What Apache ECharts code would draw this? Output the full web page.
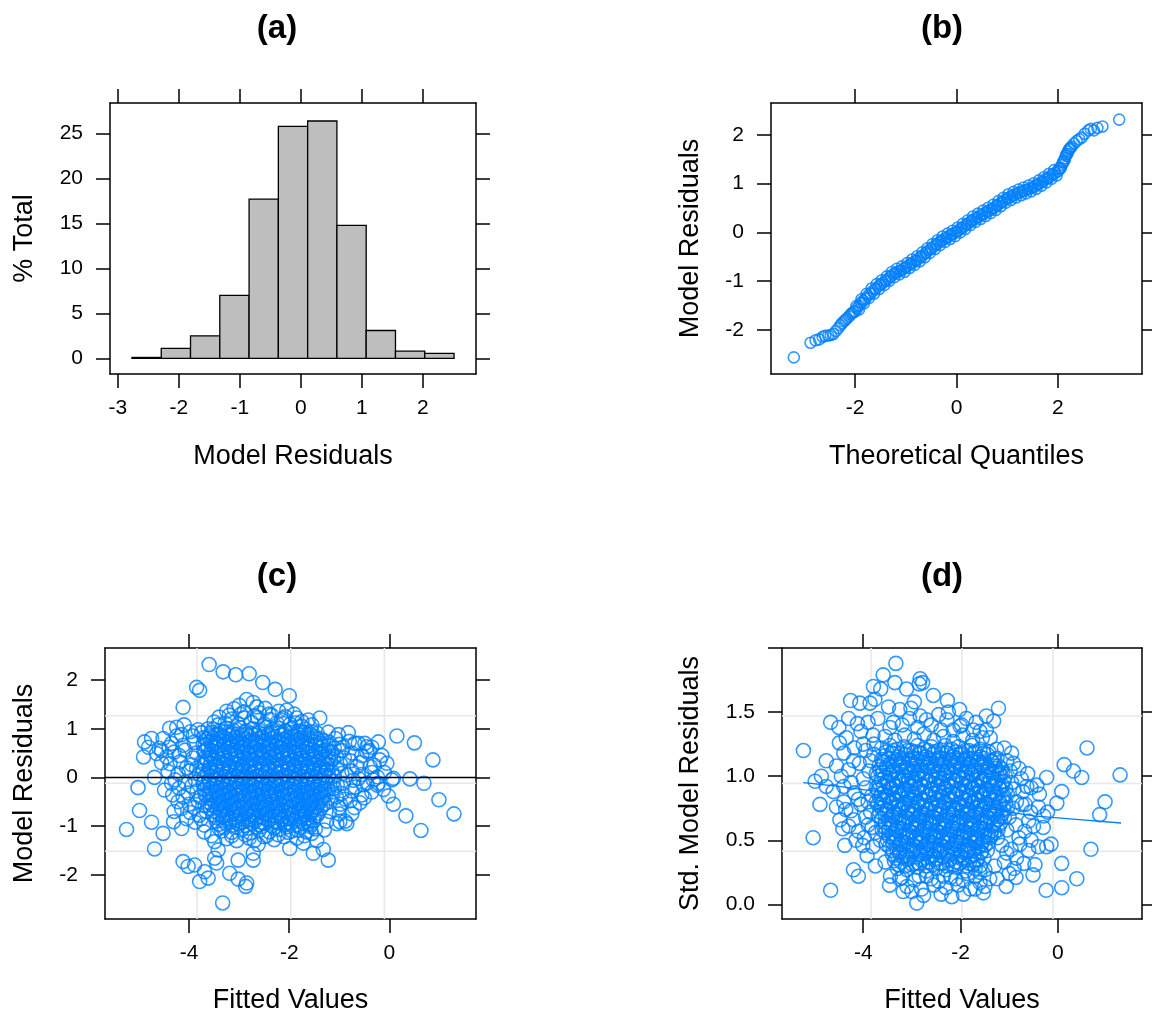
<!DOCTYPE html>
<html>
<head>
<meta charset="utf-8">
<script src="https://cdn.jsdelivr.net/npm/echarts/dist/echarts.min.js"></script>
<style>
  html, body { margin: 0; padding: 0; background: #fff; }
  #chart { width: 1152px; height: 1016px; }
</style>
</head>
<body>
<div id="chart"></div>
<script>
// ---- (a) histogram of residuals ----
const histEdges = [-2.77, -2.29, -1.81, -1.33, -0.85, -0.37, 0.11, 0.59, 1.07, 1.55, 2.03, 2.51]
const histPercent = [0.1, 1.1, 2.5, 7.0, 17.7, 25.8, 26.4, 14.8, 3.1, 0.8, 0.55]

// ---- (b) normal QQ plot: [theoretical quantile, residual] ----
const qqPoints = [
  [-3.21,-2.56],[-2.88,-2.26],[-2.78,-2.21],[-2.71,-2.19],[-2.64,-2.14],[-2.59,-2.12],[-2.53,-2.11],[-2.48,-2.10],
  [-2.43,-2.08],[-2.38,-2.02],[-2.33,-1.96],[-2.29,-1.90],[-2.26,-1.86],[-2.22,-1.82],[-2.19,-1.79],[-2.16,-1.76],
  [-2.12,-1.72],[-2.09,-1.68],[-2.06,-1.65],[-2.03,-1.63],[-2.00,-1.62],[-1.96,-1.55],[-1.92,-1.50],[-1.88,-1.44],
  [-1.84,-1.40],[-1.80,-1.36],[-1.75,-1.30],[-1.70,-1.25],[-1.65,-1.20],[-1.60,-1.16],[-1.55,-1.11],[-1.50,-1.07],
  [-1.45,-1.03],[-1.40,-0.99],[-1.35,-0.95],[-1.30,-0.90],[-1.25,-0.86],[-1.20,-0.83],[-1.15,-0.80],[-1.10,-0.78],
  [-1.05,-0.75],[-1.00,-0.72],[-0.95,-0.68],[-0.90,-0.64],[-0.85,-0.61],[-0.80,-0.58],[-0.75,-0.54],[-0.70,-0.50],
  [-0.65,-0.46],[-0.60,-0.42],[-0.55,-0.37],[-0.50,-0.33],[-0.45,-0.29],[-0.40,-0.25],[-0.35,-0.21],[-0.30,-0.17],
  [-0.25,-0.14],[-0.20,-0.11],[-0.15,-0.08],[-0.10,-0.05],[-0.05,-0.02],[0.00,0.01],[0.05,0.05],[0.10,0.09],
  [0.15,0.12],[0.20,0.16],[0.25,0.20],[0.30,0.24],[0.35,0.27],[0.40,0.30],[0.45,0.33],[0.50,0.36],
  [0.55,0.39],[0.60,0.42],[0.65,0.45],[0.70,0.48],[0.75,0.51],[0.80,0.55],[0.85,0.59],[0.90,0.62],
  [0.95,0.66],[1.00,0.70],[1.05,0.72],[1.10,0.75],[1.15,0.77],[1.20,0.80],[1.25,0.82],[1.30,0.84],
  [1.35,0.86],[1.40,0.88],[1.45,0.90],[1.50,0.92],[1.55,0.95],[1.60,0.98],[1.65,1.01],[1.70,1.04],
  [1.75,1.08],[1.80,1.11],[1.85,1.15],[1.90,1.19],[1.95,1.22],[2.00,1.25],[2.04,1.31],[2.08,1.38],
  [2.11,1.45],[2.14,1.52],[2.17,1.60],[2.20,1.66],[2.24,1.72],[2.27,1.76],[2.32,1.82],[2.37,1.87],
  [2.42,1.91],[2.47,1.94],[2.53,2.02],[2.60,2.09],[2.65,2.12],[2.71,2.09],[2.78,2.14],[2.88,2.17],[3.21,2.31]
]
// the upper and lower edges of the band, read between those points
const qqBand = [
  [-1.975,-1.51],[-1.925,-1.58],[-1.875,-1.37],[-1.825,-1.45],[-1.775,-1.26],[-1.725,-1.34],[-1.675,-1.15],[-1.625,-1.25],
  [-1.575,-1.06],[-1.525,-1.16],[-1.475,-0.98],[-1.425,-1.08],[-1.375,-0.90],[-1.325,-0.99],[-1.275,-0.81],[-1.225,-0.915],
  [-1.175,-0.745],[-1.125,-0.86],[-1.075,-0.695],[-1.025,-0.805],[-0.975,-0.63],[-0.925,-0.73],[-0.875,-0.555],[-0.825,-0.665],
  [-0.775,-0.49],[-0.725,-0.59],[-0.675,-0.41],[-0.625,-0.51],[-0.575,-0.325],[-0.525,-0.42],[-0.475,-0.24],[-0.425,-0.34],
  [-0.375,-0.16],[-0.325,-0.26],[-0.275,-0.085],[-0.225,-0.195],[-0.175,-0.025],[-0.125,-0.135],[-0.075,0.035],[-0.025,-0.075],
  [0.025,0.10],[0.075,0.00],[0.125,0.175],[0.175,0.07],[0.225,0.25],[0.275,0.15],[0.325,0.325],[0.375,0.215],
  [0.425,0.385],[0.475,0.275],[0.525,0.445],[0.575,0.335],[0.625,0.505],[0.675,0.395],[0.725,0.565],[0.775,0.46],
  [0.825,0.64],[0.875,0.535],[0.925,0.71],[0.975,0.61],[1.025,0.78],[1.075,0.665],[1.125,0.83],[1.175,0.715],
  [1.225,0.88],[1.275,0.76],[1.325,0.92],[1.375,0.80],[1.425,0.96],[1.475,0.84],[1.525,1.005],[1.575,0.895],
  [1.625,1.065],[1.675,0.955],[1.725,1.13],[1.775,1.025],[1.825,1.20],[1.875,1.10],[1.925,1.275],[1.975,1.165],
  [2.02,1.30],[2.06,1.32],[2.10,1.43],[2.13,1.47],[2.16,1.57],[2.19,1.61],[2.22,1.70],[2.25,1.73]
]

// ---- (c) residuals vs fitted: [fitted, residual] ----
const residOuter = [
  [-3.60,2.32],[-3.32,2.17],[-3.07,2.11],[-2.80,2.13],[-2.53,1.95],[-2.28,1.81],[-2.00,1.68],
  [-3.85,1.85],[-3.79,1.79],[-4.12,1.44],[-2.85,1.60],[-2.72,1.54],[-1.39,1.22],[-1.85,1.22],[-1.62,1.18],[-3.40,1.24],
  [0.15,0.85],[0.50,0.71],[0.87,0.36],[-0.22,0.73],[-0.19,0.36],[-0.05,0.29],[0.41,-0.03],[0.69,-0.12],[0.99,-0.46],
  [1.29,-0.75],[0.33,-0.79],[0.63,-1.09],[0.08,-0.02],[-0.02,-0.38],[0.08,-0.55],[-0.22,-0.12],[-0.45,-0.12],[-0.59,-0.52],
  [-5.25,-1.07],[-5.02,-0.21],[-4.99,-0.68],[-4.75,-0.92],[-4.52,-1.15],[-4.69,-1.47],[-4.69,0.00],[-4.91,0.42],
  [-4.89,0.73],[-4.75,0.80],[-4.52,0.80],[-4.39,1.01],[-4.25,1.03],[-4.31,-0.91],[-4.15,-1.05],[-4.65,0.49],
  [-4.45,0.42],[-4.49,-0.26],[-4.33,-0.36],[-4.15,-0.64],[-4.10,1.08],[-3.97,0.94],[-4.81,0.62],[-4.60,0.60],
  [-4.12,-1.73],[-4.02,-1.83],[-3.89,-1.80],[-3.79,-2.14],[-3.62,-2.07],[-3.69,-1.94],[-3.33,-2.58],[-3.19,-1.97],
  [-3.02,-2.09],[-2.85,-2.17],[-2.87,-2.24],[-3.02,-1.70],[-2.72,-1.70],[-2.72,-1.56],[-2.45,-1.20],[-1.99,-1.46],
  [-1.72,-1.35],[-1.52,-1.56],[-1.22,-1.70],[-1.32,-1.48],[-3.49,-1.32],[-3.42,-1.49],[-3.45,-1.76],[-3.49,-1.66],
  [-3.25,1.36],[-3.10,1.41],[-2.97,1.30],[-2.60,1.33],[-2.48,1.42],[-2.35,1.28],[-2.21,1.36],[-2.08,1.25],
  [-1.90,1.30],[-2.65,1.45],[-3.00,1.48],
  [-0.35,0.62],[-0.15,0.45],[-0.30,0.25],[-0.10,0.10],[0.05,-0.05],[-0.12,-0.25],[-0.35,-0.30],[-0.50,-0.42],
  [-0.75,-0.75],[-0.85,-0.95],[-0.24,0.01],[-0.24,-0.16],[-0.45,0.53],[-0.49,0.70],[-0.69,0.70],[-0.99,-0.91]
]
const residMid = [
  [-4.15,0.88],[-3.92,0.85],[-3.75,0.92],[-4.35,0.70],[-4.12,0.66],[-3.90,0.72],[-3.72,0.68],
  [-4.55,0.55],[-4.30,0.52],[-4.08,0.56],[-3.86,0.50],[-3.68,0.55],[-4.38,0.28],[-4.18,0.32],[-3.95,0.26],[-3.75,0.31],
  [-4.42,0.12],[-4.22,0.08],[-4.00,0.13],[-3.80,0.07],[-4.28,-0.05],[-4.08,-0.10],[-3.88,-0.04],[-3.72,-0.12],
  [-4.20,-0.22],[-4.02,-0.32],[-3.84,-0.28],[-3.68,-0.35],[-4.22,-0.50],[-4.00,-0.55],[-3.82,-0.48],[-3.68,-0.58],
  [-3.98,-0.72],[-3.80,-0.78],[-3.66,-0.70],[-3.88,-0.92],[-3.70,-0.98],[-3.70,-1.12],[-3.55,-1.20],
  [-1.22,0.93],[-1.02,0.88],[-1.20,0.72],[-1.00,0.68],[-0.80,0.74],[-0.62,0.70],[-0.45,0.63],
  [-1.15,0.52],[-0.95,0.55],[-0.75,0.50],[-0.55,0.45],[-0.40,0.55],[-1.18,0.32],[-0.98,0.28],[-0.78,0.34],[-0.58,0.30],[-0.38,0.22],
  [-1.15,0.12],[-0.95,0.08],[-0.75,0.13],[-0.55,0.06],[-0.35,0.10],[-1.12,-0.08],[-0.92,-0.12],[-0.72,-0.06],[-0.52,-0.15],[-0.32,-0.05],
  [-1.15,-0.30],[-0.95,-0.33],[-0.75,-0.28],[-0.55,-0.36],[-1.18,-0.50],[-0.98,-0.55],[-0.78,-0.48],[-0.70,-0.62],
  [-1.20,-0.70],[-1.00,-0.75],[-0.88,-0.90],[-1.25,-0.90],[-1.05,-0.95],[-1.30,-1.08],
  [-3.50,1.14],[-3.28,1.12],[-3.15,1.20],[-3.02,1.10],[-2.90,1.22],[-2.76,1.14],[-2.63,1.23],[-2.50,1.10],
  [-2.38,1.19],[-2.25,1.12],[-2.12,1.21],[-1.98,1.09],[-1.75,1.05],
  [-3.35,-1.10],[-3.15,-1.13],[-2.95,-1.08],[-2.78,-1.14],[-2.60,-1.09],[-2.40,-1.12],[-2.20,-1.07],[-2.02,-1.13],
  [-1.84,-1.08],[-1.66,-1.12],[-1.48,-1.06],[-3.25,-1.26],[-3.05,-1.30],[-2.80,-1.25],[-2.62,-1.38],[-2.30,-1.28],
  [-2.10,-1.22],[-1.85,-1.25],[-1.45,-1.30],
  [-1.10,0.60],[-1.06,0.44],[-1.12,0.38],[-1.05,0.20],[-1.10,0.02],[-1.04,-0.16],[-1.10,-0.22],[-1.06,-0.40],
  [-4.40,0.62],[-4.20,0.45],[-4.05,0.20],[-3.92,0.40],[-4.25,0.85],[-3.82,0.98],[-3.95,-0.18],[-4.12,-0.40],
  [-3.90,-0.62],[-4.05,-0.85],[-3.78,-0.40],[-3.85,0.18],[-4.30,-0.70],[-3.76,-0.85],[-3.62,1.00],[-3.70,0.82],
  [-4.55,0.30],[-4.35,-0.12],
  [-0.90,0.40],[-0.85,0.05],[-0.68,-0.20],[-0.88,-0.45],[-1.08,0.80],[-0.92,0.62],[-0.65,0.22],[-1.00,-0.62],
  [-0.62,-0.02],[-0.82,0.92],
  [-3.20,1.28],[-2.90,1.35],[-2.40,1.30],[-2.05,1.38],[-1.75,1.15],[-1.55,1.08],[-3.42,1.08],[-2.70,1.26],
  [-2.15,1.18],[-1.88,1.12],
  [-3.15,-1.20],[-2.88,-1.18],[-2.50,-1.22],[-2.22,-1.18],[-1.95,-1.10],[-1.70,-1.20],[-3.40,-1.05],[-1.55,-1.15],
  [-2.70,-1.30],[-1.62,-0.95]
]
const residCore = [
  [-3.52,0.99],[-3.38,0.96],[-3.26,1.01],[-3.12,0.97],[-2.99,1.02],[-2.86,0.96],[-2.73,1.00],[-2.60,0.97],[-2.47,1.03],
  [-2.34,0.98],[-2.21,1.01],[-2.08,0.96],[-1.95,1.00],[-1.82,0.95],[-1.68,0.99],[-1.55,0.94],
  [-3.60,0.85],[-3.46,0.88],[-3.33,0.84],[-3.20,0.87],[-3.07,0.83],[-2.94,0.88],[-2.81,0.85],[-2.68,0.87],[-2.55,0.83],
  [-2.42,0.88],[-2.29,0.84],[-2.16,0.87],[-2.03,0.83],[-1.90,0.86],[-1.77,0.82],[-1.64,0.87],[-1.51,0.84],[-1.38,0.80],
  [-3.58,0.74],[-3.45,0.71],[-3.31,0.75],[-3.19,0.72],[-3.05,0.74],[-2.93,0.70],[-2.79,0.75],[-2.67,0.72],[-2.53,0.74],
  [-2.41,0.70],[-2.27,0.73],[-2.15,0.71],[-2.01,0.75],[-1.89,0.72],[-1.75,0.74],[-1.63,0.70],[-1.49,0.73],[-1.37,0.69],
  [-3.62,0.60],[-3.49,0.62],[-3.35,0.58],[-3.23,0.61],[-3.10,0.57],[-2.96,0.62],[-2.84,0.59],[-2.70,0.61],[-2.58,0.57],
  [-2.44,0.62],[-2.32,0.58],[-2.18,0.61],[-2.06,0.57],[-1.92,0.62],[-1.80,0.59],[-1.66,0.61],[-1.54,0.57],[-1.40,0.60],[-1.30,0.56],
  [-3.60,0.47],[-3.46,0.49],[-3.34,0.45],[-3.20,0.48],[-3.08,0.44],[-2.94,0.49],[-2.82,0.46],[-2.68,0.48],[-2.56,0.44],
  [-2.42,0.49],[-2.30,0.45],[-2.16,0.48],[-2.04,0.44],[-1.90,0.49],[-1.78,0.46],[-1.64,0.48],[-1.52,0.44],[-1.38,0.47],[-1.28,0.43],
  [-3.63,0.34],[-3.50,0.36],[-3.36,0.32],[-3.24,0.35],[-3.10,0.31],[-2.98,0.36],[-2.84,0.33],[-2.72,0.35],[-2.58,0.31],
  [-2.46,0.36],[-2.32,0.32],[-2.20,0.35],[-2.06,0.31],[-1.94,0.36],[-1.80,0.33],[-1.68,0.35],[-1.54,0.31],[-1.42,0.34],[-1.30,0.30],
  [-3.60,0.21],[-3.47,0.23],[-3.33,0.19],[-3.21,0.22],[-3.07,0.18],[-2.95,0.23],[-2.81,0.20],[-2.69,0.22],[-2.55,0.18],
  [-2.43,0.23],[-2.29,0.19],[-2.17,0.22],[-2.03,0.18],[-1.91,0.23],[-1.77,0.20],[-1.65,0.22],[-1.51,0.18],[-1.39,0.21],[-1.27,0.17],
  [-3.64,0.08],[-3.51,0.10],[-3.37,0.06],[-3.25,0.09],[-3.11,0.05],[-2.99,0.10],[-2.85,0.07],[-2.73,0.09],[-2.59,0.05],
  [-2.47,0.10],[-2.33,0.06],[-2.21,0.09],[-2.07,0.05],[-1.95,0.10],[-1.81,0.07],[-1.69,0.09],[-1.55,0.05],[-1.43,0.08],[-1.30,0.04],
  [-3.61,-0.05],[-3.48,-0.03],[-3.34,-0.07],[-3.22,-0.04],[-3.08,-0.08],[-2.96,-0.03],[-2.82,-0.06],[-2.70,-0.04],[-2.56,-0.08],
  [-2.44,-0.03],[-2.30,-0.07],[-2.18,-0.04],[-2.04,-0.08],[-1.92,-0.03],[-1.78,-0.06],[-1.66,-0.04],[-1.52,-0.08],[-1.40,-0.05],[-1.28,-0.09],
  [-3.64,-0.18],[-3.51,-0.16],[-3.37,-0.20],[-3.25,-0.17],[-3.11,-0.21],[-2.99,-0.16],[-2.85,-0.19],[-2.73,-0.17],[-2.59,-0.21],
  [-2.47,-0.16],[-2.33,-0.20],[-2.21,-0.17],[-2.07,-0.21],[-1.95,-0.16],[-1.81,-0.19],[-1.69,-0.17],[-1.55,-0.21],[-1.43,-0.18],[-1.30,-0.22],
  [-3.60,-0.31],[-3.47,-0.29],[-3.33,-0.33],[-3.21,-0.30],[-3.07,-0.34],[-2.95,-0.29],[-2.81,-0.32],[-2.69,-0.30],[-2.55,-0.34],
  [-2.43,-0.29],[-2.29,-0.33],[-2.17,-0.30],[-2.03,-0.34],[-1.91,-0.29],[-1.77,-0.32],[-1.65,-0.30],[-1.51,-0.34],[-1.39,-0.31],[-1.27,-0.35],
  [-3.57,-0.44],[-3.44,-0.42],[-3.30,-0.46],[-3.18,-0.43],[-3.04,-0.47],[-2.92,-0.42],[-2.78,-0.45],[-2.66,-0.43],[-2.52,-0.47],
  [-2.40,-0.42],[-2.26,-0.46],[-2.14,-0.43],[-2.00,-0.47],[-1.88,-0.42],[-1.74,-0.45],[-1.62,-0.43],[-1.48,-0.47],[-1.36,-0.44],
  [-3.54,-0.57],[-3.41,-0.55],[-3.27,-0.59],[-3.15,-0.56],[-3.01,-0.60],[-2.89,-0.55],[-2.75,-0.58],[-2.63,-0.56],[-2.49,-0.60],
  [-2.37,-0.55],[-2.23,-0.59],[-2.11,-0.56],[-1.97,-0.60],[-1.85,-0.55],[-1.71,-0.58],[-1.59,-0.56],[-1.45,-0.60],[-1.33,-0.57],
  [-3.50,-0.70],[-3.37,-0.68],[-3.23,-0.72],[-3.11,-0.69],[-2.97,-0.73],[-2.85,-0.68],[-2.71,-0.71],[-2.59,-0.69],[-2.45,-0.73],
  [-2.33,-0.68],[-2.19,-0.72],[-2.07,-0.69],[-1.93,-0.73],[-1.81,-0.68],[-1.67,-0.71],[-1.55,-0.69],[-1.42,-0.73],
  [-3.45,-0.83],[-3.32,-0.81],[-3.18,-0.85],[-3.06,-0.82],[-2.92,-0.86],[-2.80,-0.81],[-2.66,-0.84],[-2.54,-0.82],[-2.40,-0.86],
  [-2.28,-0.81],[-2.14,-0.85],[-2.02,-0.82],[-1.88,-0.86],[-1.76,-0.81],[-1.62,-0.84],[-1.50,-0.82],
  [-3.40,-0.96],[-3.27,-0.94],[-3.13,-0.98],[-3.01,-0.95],[-2.87,-0.99],[-2.75,-0.94],[-2.61,-0.97],[-2.49,-0.95],[-2.35,-0.99],
  [-2.23,-0.94],[-2.09,-0.98],[-1.97,-0.95],[-1.83,-0.99],[-1.71,-0.94],[-1.58,-0.97]
]
// second pass over the solid part of (c), between the rows above
const residCoreB = [
  [-3.55,0.92],[-3.41,0.90],[-3.29,0.93],[-3.15,0.91],[-3.03,0.89],[-2.88,0.93],[-2.76,0.90],[-2.61,0.92],[-2.50,0.89],
  [-2.36,0.93],[-2.22,0.91],[-2.11,0.89],[-1.96,0.92],[-1.84,0.90],[-1.70,0.93],[-1.58,0.89],[-1.44,0.91],
  [-3.66,0.79],[-3.52,0.81],[-3.40,0.78],[-3.26,0.80],[-3.13,0.77],[-3.00,0.81],[-2.87,0.79],[-2.74,0.77],[-2.61,0.80],
  [-2.48,0.78],[-2.35,0.81],[-2.22,0.77],[-2.09,0.79],[-1.96,0.81],[-1.83,0.78],[-1.70,0.80],[-1.57,0.77],[-1.44,0.79],[-1.31,0.76],
  [-3.68,0.66],[-3.55,0.68],[-3.42,0.65],[-3.29,0.67],[-3.16,0.64],[-3.03,0.68],[-2.90,0.66],[-2.77,0.64],[-2.64,0.67],
  [-2.51,0.65],[-2.38,0.68],[-2.25,0.64],[-2.12,0.66],[-1.99,0.68],[-1.86,0.65],[-1.73,0.67],[-1.60,0.64],[-1.47,0.66],[-1.34,0.63],[-1.22,0.66],
  [-3.70,0.53],[-3.56,0.55],[-3.43,0.52],[-3.30,0.54],[-3.17,0.51],[-3.04,0.55],[-2.91,0.53],[-2.78,0.51],[-2.65,0.54],
  [-2.52,0.52],[-2.39,0.55],[-2.26,0.51],[-2.13,0.53],[-2.00,0.55],[-1.87,0.52],[-1.74,0.54],[-1.61,0.51],[-1.48,0.53],[-1.35,0.50],[-1.22,0.53],
  [-3.68,0.40],[-3.55,0.42],[-3.42,0.39],[-3.29,0.41],[-3.16,0.38],[-3.03,0.42],[-2.90,0.40],[-2.77,0.38],[-2.64,0.41],
  [-2.51,0.39],[-2.38,0.42],[-2.25,0.38],[-2.12,0.40],[-1.99,0.42],[-1.86,0.39],[-1.73,0.41],[-1.60,0.38],[-1.47,0.40],[-1.34,0.37],[-1.21,0.40],
  [-3.70,0.27],[-3.57,0.29],[-3.44,0.26],[-3.31,0.28],[-3.18,0.25],[-3.05,0.29],[-2.92,0.27],[-2.79,0.25],[-2.66,0.28],
  [-2.53,0.26],[-2.40,0.29],[-2.27,0.25],[-2.14,0.27],[-2.01,0.29],[-1.88,0.26],[-1.75,0.28],[-1.62,0.25],[-1.49,0.27],[-1.36,0.24],[-1.23,0.27],
  [-3.72,0.14],[-3.58,0.16],[-3.45,0.13],[-3.32,0.15],[-3.19,0.12],[-3.06,0.16],[-2.93,0.14],[-2.80,0.12],[-2.67,0.15],
  [-2.54,0.13],[-2.41,0.16],[-2.28,0.12],[-2.15,0.14],[-2.02,0.16],[-1.89,0.13],[-1.76,0.15],[-1.63,0.12],[-1.50,0.14],[-1.37,0.11],[-1.24,0.14],
  [-3.70,0.01],[-3.56,0.03],[-3.43,0.00],[-3.30,0.02],[-3.17,-0.01],[-3.04,0.03],[-2.91,0.01],[-2.78,-0.01],[-2.65,0.02],
  [-2.52,0.00],[-2.39,0.03],[-2.26,-0.01],[-2.13,0.01],[-2.00,0.03],[-1.87,0.00],[-1.74,0.02],[-1.61,-0.01],[-1.48,0.01],[-1.35,-0.02],[-1.22,0.01],
  [-3.71,-0.12],[-3.58,-0.10],[-3.45,-0.13],[-3.32,-0.11],[-3.19,-0.14],[-3.06,-0.10],[-2.93,-0.12],[-2.80,-0.14],[-2.67,-0.11],
  [-2.54,-0.13],[-2.41,-0.10],[-2.28,-0.14],[-2.15,-0.12],[-2.02,-0.10],[-1.89,-0.13],[-1.76,-0.11],[-1.63,-0.14],[-1.50,-0.12],[-1.37,-0.15],[-1.24,-0.12],
  [-3.70,-0.25],[-3.57,-0.23],[-3.44,-0.26],[-3.31,-0.24],[-3.18,-0.27],[-3.05,-0.23],[-2.92,-0.25],[-2.79,-0.27],[-2.66,-0.24],
  [-2.53,-0.26],[-2.40,-0.23],[-2.27,-0.27],[-2.14,-0.25],[-2.01,-0.23],[-1.88,-0.26],[-1.75,-0.24],[-1.62,-0.27],[-1.49,-0.25],[-1.36,-0.28],[-1.23,-0.25],
  [-3.66,-0.38],[-3.53,-0.36],[-3.40,-0.39],[-3.27,-0.37],[-3.14,-0.40],[-3.01,-0.36],[-2.88,-0.38],[-2.75,-0.40],[-2.62,-0.37],
  [-2.49,-0.39],[-2.36,-0.36],[-2.23,-0.40],[-2.10,-0.38],[-1.97,-0.36],[-1.84,-0.39],[-1.71,-0.37],[-1.58,-0.40],[-1.45,-0.38],[-1.32,-0.41],
  [-3.62,-0.51],[-3.49,-0.49],[-3.36,-0.52],[-3.23,-0.50],[-3.10,-0.53],[-2.97,-0.49],[-2.84,-0.51],[-2.71,-0.53],[-2.58,-0.50],
  [-2.45,-0.52],[-2.32,-0.49],[-2.19,-0.53],[-2.06,-0.51],[-1.93,-0.49],[-1.80,-0.52],[-1.67,-0.50],[-1.54,-0.53],[-1.41,-0.51],[-1.29,-0.54],
  [-3.58,-0.64],[-3.45,-0.62],[-3.32,-0.65],[-3.19,-0.63],[-3.06,-0.66],[-2.93,-0.62],[-2.80,-0.64],[-2.67,-0.66],[-2.54,-0.63],
  [-2.41,-0.65],[-2.28,-0.62],[-2.15,-0.66],[-2.02,-0.64],[-1.89,-0.62],[-1.76,-0.65],[-1.63,-0.63],[-1.50,-0.66],[-1.37,-0.64],
  [-3.52,-0.77],[-3.39,-0.75],[-3.26,-0.78],[-3.13,-0.76],[-3.00,-0.79],[-2.87,-0.75],[-2.74,-0.77],[-2.61,-0.79],[-2.48,-0.76],
  [-2.35,-0.78],[-2.22,-0.75],[-2.09,-0.79],[-1.96,-0.77],[-1.83,-0.75],[-1.70,-0.78],[-1.57,-0.76],[-1.45,-0.79],
  [-3.46,-0.90],[-3.33,-0.88],[-3.20,-0.91],[-3.07,-0.89],[-2.94,-0.92],[-2.81,-0.88],[-2.68,-0.90],[-2.55,-0.92],[-2.42,-0.89],
  [-2.29,-0.91],[-2.16,-0.88],[-2.03,-0.92],[-1.90,-0.90],[-1.77,-0.88],[-1.64,-0.91],[-1.52,-0.89],
  [-3.30,-1.03],[-3.05,-1.02],[-2.82,-1.04],[-2.55,-1.01],[-2.30,-1.04],[-2.05,-1.02],[-1.78,-1.03],[-1.58,-1.01]
]

// ---- (d) scale-location: [fitted, sqrt |std residual|] ----
const scaleOuter = [
  [-5.23,1.20],[-5.03,0.52],[-4.67,1.42],[-4.67,0.11],[-4.89,0.78],[-4.99,0.96],[-4.86,1.00],[-4.76,1.12],[-4.76,0.92],
  [-4.49,1.26],[-4.38,0.46],[-4.20,0.27],[-4.10,0.22],[-4.12,1.41],[-4.01,0.46],[-3.92,0.38],[-4.26,1.59],[-4.07,1.57],
  [-3.86,1.57],[-3.76,1.60],[-3.33,1.88],[-3.59,1.79],[-3.79,1.70],[-3.64,1.68],[-3.35,1.73],[-3.11,1.68],[-2.83,1.76],
  [-2.78,1.73],[-2.85,1.72],[-2.56,1.63],[-2.27,1.59],[-2.02,1.52],[-1.98,1.40],[-1.22,1.53],[-1.47,1.47],[-1.32,1.43],
  [-1.39,1.30],[-0.91,1.10],[-1.05,1.12],[-0.23,0.99],[0.13,1.09],[0.32,1.04],[0.49,0.99],[0.60,1.22],[1.28,1.01],
  [0.97,0.80],[0.86,0.70],[0.68,0.43],[0.08,0.88],[-0.02,0.79],[0.08,0.32],[0.39,0.20],[0.08,0.13],[-0.24,0.11],
  [-0.47,0.31],[-0.51,0.23],[-0.23,0.45],[-0.14,0.47],[-0.43,0.93],[-0.29,0.69],[-0.21,0.72],[-0.67,0.78],[-0.64,0.92],
  [-0.86,0.21],[-1.06,0.14],[-1.53,0.09],[-1.60,0.17],[-2.18,0.06],[-1.94,0.08],[-2.90,0.01],[-2.76,0.07],[-3.18,0.10],
  [-3.46,0.15],[-3.44,0.22],[-4.42,0.59],[-4.48,0.66],[-4.36,0.74],
  [-3.48,1.54],[-3.38,1.42],[-3.02,1.53],[-2.83,1.47],[-2.70,1.44],[-2.28,1.44],[-2.01,1.39],[-1.74,1.36],[-1.47,1.36],[-1.26,1.21]
]
const scaleMid = [
  [-4.05,1.35],[-3.80,1.32],[-4.40,1.18],[-4.18,1.22],[-3.95,1.20],[-3.78,1.17],[-4.55,1.08],[-4.30,1.05],[-4.08,1.10],[-3.88,1.04],
  [-4.62,0.88],[-4.40,0.92],[-4.18,0.87],[-3.95,0.91],[-3.82,0.85],[-4.55,0.76],[-4.25,0.73],[-4.05,0.78],[-3.85,0.72],
  [-4.30,0.61],[-4.10,0.57],[-3.90,0.62],[-3.75,0.56],[-4.15,0.50],[-3.80,0.45],[-3.65,0.50],[-3.75,0.30],[-3.55,0.33],
  [-1.10,1.22],[-0.95,1.18],[-0.98,1.04],[-0.80,1.06],[-0.62,1.02],[-0.90,0.90],[-0.72,0.88],[-0.55,0.91],[-0.38,0.86],
  [-0.92,0.75],[-0.74,0.78],[-0.56,0.72],[-0.40,0.76],[-1.05,0.58],[-0.86,0.62],[-0.68,0.57],[-0.50,0.61],[-0.30,0.60],
  [-1.15,0.46],[-0.96,0.43],[-0.78,0.47],[-0.60,0.42],[-0.40,0.45],[-1.30,0.30],[-1.10,0.33],[-0.90,0.28],[-0.70,0.32],
  [-1.25,0.20],[-1.00,0.24],
  [-3.55,1.31],[-3.35,1.28],[-3.15,1.32],[-2.95,1.29],[-2.75,1.33],[-2.55,1.28],[-2.35,1.31],[-2.15,1.27],[-1.95,1.32],[-1.75,1.28],[-1.55,1.30],
  [-3.30,0.28],[-3.10,0.27],[-2.90,0.29],[-2.70,0.26],[-2.50,0.28],[-2.30,0.27],[-2.10,0.29],[-1.90,0.26],[-1.70,0.28],[-1.50,0.27],
  [-3.20,0.21],[-2.95,0.19],[-2.70,0.22],[-2.45,0.18],[-2.20,0.21],[-1.95,0.19],[-1.70,0.22],[-1.40,0.20],
  [-3.10,0.14],[-2.80,0.12],[-2.55,0.15],[-2.30,0.13],[-2.05,0.15],[-1.80,0.12],[-1.50,0.14],
  [-4.35,1.30],[-4.20,1.12],[-4.45,1.00],[-4.00,0.98],[-3.85,1.12],[-4.25,0.95],[-4.10,0.82],[-4.40,0.80],
  [-3.95,0.68],[-4.20,0.66],[-3.82,0.60],[-3.98,0.52],[-3.78,1.25],[-4.00,1.25],[-3.90,0.80],[-4.50,1.38],
  [-4.30,1.45],[-3.70,1.45],[-3.90,1.42],
  [-3.45,1.38],[-3.20,1.40],[-3.05,1.45],[-2.88,1.38],[-2.60,1.40],[-2.45,1.48],[-2.40,1.36],[-2.15,1.36],
  [-1.88,1.45],[-1.68,1.42],[-1.60,1.35],[-2.95,1.58],[-3.25,1.52],[-2.25,1.50],
  [-0.95,0.95],[-0.85,0.80],[-1.00,0.68],[-0.80,0.52],[-1.05,0.40],[-0.75,0.98],[-0.60,0.65],[-0.85,0.36],[-0.55,0.50],
  [-3.25,0.20],[-2.85,0.22],[-2.60,0.20],[-2.35,0.22],[-2.10,0.20],[-1.85,0.24],[-1.60,0.25],[-3.00,0.10],[-2.40,0.08],[-1.70,0.12]
]
const scaleCore = [
  [-3.62,1.22],[-3.45,1.24],[-3.30,1.21],[-3.16,1.23],[-3.02,1.20],[-2.88,1.24],[-2.74,1.21],[-2.60,1.23],[-2.46,1.20],
  [-2.32,1.24],[-2.18,1.21],[-2.04,1.23],[-1.90,1.20],[-1.76,1.24],[-1.60,1.21],[-1.42,1.19],
  [-3.55,1.16],[-3.41,1.18],[-3.27,1.15],[-3.13,1.17],[-2.99,1.14],[-2.85,1.18],[-2.71,1.15],[-2.57,1.17],[-2.43,1.14],
  [-2.29,1.18],[-2.15,1.15],[-2.01,1.17],[-1.87,1.14],[-1.73,1.18],[-1.59,1.15],[-1.45,1.17],[-1.30,1.13],
  [-3.60,1.11],[-3.46,1.09],[-3.32,1.12],[-3.18,1.10],[-3.04,1.13],[-2.90,1.09],[-2.76,1.11],[-2.62,1.10],[-2.48,1.13],
  [-2.34,1.09],[-2.20,1.12],[-2.06,1.10],[-1.92,1.13],[-1.78,1.09],[-1.64,1.11],[-1.50,1.10],[-1.36,1.12],[-1.22,1.08],
  [-3.66,1.05],[-3.52,1.06],[-3.38,1.04],[-3.24,1.07],[-3.10,1.05],[-2.96,1.06],[-2.82,1.04],[-2.68,1.07],[-2.54,1.05],
  [-2.40,1.06],[-2.26,1.04],[-2.12,1.07],[-1.98,1.05],[-1.84,1.06],[-1.70,1.04],[-1.56,1.07],[-1.42,1.05],[-1.28,1.06],[-1.14,1.03],
  [-3.70,1.00],[-3.56,0.99],[-3.42,1.01],[-3.28,0.98],[-3.14,1.00],[-3.00,0.99],[-2.86,1.01],[-2.72,0.98],[-2.58,1.00],
  [-2.44,0.99],[-2.30,1.01],[-2.16,0.98],[-2.02,1.00],[-1.88,0.99],[-1.74,1.01],[-1.60,0.98],[-1.46,1.00],[-1.32,0.99],[-1.18,1.01],
  [-3.66,0.94],[-3.52,0.95],[-3.38,0.93],[-3.24,0.96],[-3.10,0.94],[-2.96,0.95],[-2.82,0.93],[-2.68,0.96],[-2.54,0.94],
  [-2.40,0.95],[-2.26,0.93],[-2.12,0.96],[-1.98,0.94],[-1.84,0.95],[-1.70,0.93],[-1.56,0.96],[-1.42,0.94],[-1.28,0.95],[-1.14,0.93],
  [-3.70,0.89],[-3.56,0.88],[-3.42,0.90],[-3.28,0.87],[-3.14,0.89],[-3.00,0.88],[-2.86,0.90],[-2.72,0.87],[-2.58,0.89],
  [-2.44,0.88],[-2.30,0.90],[-2.16,0.87],[-2.02,0.89],[-1.88,0.88],[-1.74,0.90],[-1.60,0.87],[-1.46,0.89],[-1.32,0.88],[-1.18,0.90],[-1.04,0.86],
  [-3.66,0.83],[-3.52,0.84],[-3.38,0.82],[-3.24,0.85],[-3.10,0.83],[-2.96,0.84],[-2.82,0.82],[-2.68,0.85],[-2.54,0.83],
  [-2.40,0.84],[-2.26,0.82],[-2.12,0.85],[-1.98,0.83],[-1.84,0.84],[-1.70,0.82],[-1.56,0.85],[-1.42,0.83],[-1.28,0.84],[-1.14,0.82],
  [-3.70,0.78],[-3.56,0.77],[-3.42,0.79],[-3.28,0.76],[-3.14,0.78],[-3.00,0.77],[-2.86,0.79],[-2.72,0.76],[-2.58,0.78],
  [-2.44,0.77],[-2.30,0.79],[-2.16,0.76],[-2.02,0.78],[-1.88,0.77],[-1.74,0.79],[-1.60,0.76],[-1.46,0.78],[-1.32,0.77],[-1.18,0.79],[-1.04,0.75],
  [-3.66,0.72],[-3.52,0.73],[-3.38,0.71],[-3.24,0.74],[-3.10,0.72],[-2.96,0.73],[-2.82,0.71],[-2.68,0.74],[-2.54,0.72],
  [-2.40,0.73],[-2.26,0.71],[-2.12,0.74],[-1.98,0.72],[-1.84,0.73],[-1.70,0.71],[-1.56,0.74],[-1.42,0.72],[-1.28,0.73],[-1.14,0.71],
  [-3.62,0.67],[-3.48,0.66],[-3.34,0.68],[-3.20,0.65],[-3.06,0.67],[-2.92,0.66],[-2.78,0.68],[-2.64,0.65],[-2.50,0.67],
  [-2.36,0.66],[-2.22,0.68],[-2.08,0.65],[-1.94,0.67],[-1.80,0.66],[-1.66,0.68],[-1.52,0.65],[-1.38,0.67],[-1.24,0.66],[-1.10,0.68],
  [-3.58,0.61],[-3.44,0.62],[-3.30,0.60],[-3.16,0.63],[-3.02,0.61],[-2.88,0.62],[-2.74,0.60],[-2.60,0.63],[-2.46,0.61],
  [-2.32,0.62],[-2.18,0.60],[-2.04,0.63],[-1.90,0.61],[-1.76,0.62],[-1.62,0.60],[-1.48,0.63],[-1.34,0.61],[-1.20,0.62],
  [-3.54,0.56],[-3.40,0.55],[-3.26,0.57],[-3.12,0.54],[-2.98,0.56],[-2.84,0.55],[-2.70,0.57],[-2.56,0.54],[-2.42,0.56],
  [-2.28,0.55],[-2.14,0.57],[-2.00,0.54],[-1.86,0.56],[-1.72,0.55],[-1.58,0.57],[-1.44,0.54],[-1.30,0.56],
  [-3.50,0.50],[-3.36,0.51],[-3.22,0.49],[-3.08,0.52],[-2.94,0.50],[-2.80,0.51],[-2.66,0.49],[-2.52,0.52],[-2.38,0.50],
  [-2.24,0.51],[-2.10,0.49],[-1.96,0.52],[-1.82,0.50],[-1.68,0.51],[-1.54,0.49],[-1.40,0.52],
  [-3.46,0.45],[-3.32,0.44],[-3.18,0.46],[-3.04,0.43],[-2.90,0.45],[-2.76,0.44],[-2.62,0.46],[-2.48,0.43],[-2.34,0.45],
  [-2.20,0.44],[-2.06,0.46],[-1.92,0.43],[-1.78,0.45],[-1.64,0.44],[-1.50,0.46],
  [-3.40,0.39],[-3.26,0.40],[-3.12,0.38],[-2.98,0.41],[-2.84,0.39],[-2.70,0.40],[-2.56,0.38],[-2.42,0.41],[-2.28,0.39],
  [-2.14,0.40],[-2.00,0.38],[-1.86,0.41],[-1.72,0.39],[-1.58,0.40],
  [-3.36,0.34],[-3.22,0.33],[-3.08,0.35],[-2.94,0.32],[-2.80,0.34],[-2.66,0.33],[-2.52,0.35],[-2.38,0.32],[-2.24,0.34],
  [-2.10,0.33],[-1.96,0.35],[-1.82,0.32],[-1.68,0.34]
]
// second pass over the solid part of (d), between the rows above
const scaleCoreB = [
  [-3.52,1.19],[-3.38,1.20],[-3.23,1.18],[-3.09,1.20],[-2.95,1.19],[-2.81,1.18],[-2.67,1.20],[-2.53,1.19],[-2.39,1.18],
  [-2.25,1.20],[-2.11,1.19],[-1.97,1.18],[-1.83,1.20],[-1.69,1.19],[-1.52,1.18],
  [-3.62,1.13],[-3.48,1.14],[-3.34,1.13],[-3.20,1.14],[-3.06,1.12],[-2.92,1.14],[-2.78,1.13],[-2.64,1.14],[-2.50,1.12],
  [-2.36,1.14],[-2.22,1.13],[-2.08,1.14],[-1.94,1.12],[-1.80,1.14],[-1.66,1.13],[-1.52,1.14],[-1.38,1.12],[-1.25,1.14],
  [-3.67,1.08],[-3.53,1.07],[-3.39,1.08],[-3.25,1.09],[-3.11,1.07],[-2.97,1.08],[-2.83,1.09],[-2.69,1.07],[-2.55,1.08],
  [-2.41,1.09],[-2.27,1.07],[-2.13,1.08],[-1.99,1.09],[-1.85,1.07],[-1.71,1.08],[-1.57,1.09],[-1.43,1.07],[-1.29,1.08],[-1.16,1.06],
  [-3.73,1.02],[-3.59,1.03],[-3.45,1.02],[-3.31,1.03],[-3.17,1.01],[-3.03,1.03],[-2.89,1.02],[-2.75,1.03],[-2.61,1.01],
  [-2.47,1.03],[-2.33,1.02],[-2.19,1.03],[-2.05,1.01],[-1.91,1.03],[-1.77,1.02],[-1.63,1.03],[-1.49,1.01],[-1.35,1.03],[-1.21,1.02],[-1.08,1.00],
  [-3.63,0.97],[-3.49,0.96],[-3.35,0.97],[-3.21,0.98],[-3.07,0.96],[-2.93,0.97],[-2.79,0.98],[-2.65,0.96],[-2.51,0.97],
  [-2.37,0.98],[-2.23,0.96],[-2.09,0.97],[-1.95,0.98],[-1.81,0.96],[-1.67,0.97],[-1.53,0.98],[-1.39,0.96],[-1.25,0.97],[-1.11,0.96],
  [-3.73,0.91],[-3.59,0.92],[-3.45,0.91],[-3.31,0.92],[-3.17,0.90],[-3.03,0.92],[-2.89,0.91],[-2.75,0.92],[-2.61,0.90],
  [-2.47,0.92],[-2.33,0.91],[-2.19,0.92],[-2.05,0.90],[-1.91,0.92],[-1.77,0.91],[-1.63,0.92],[-1.49,0.90],[-1.35,0.92],[-1.21,0.91],[-1.07,0.90],
  [-3.63,0.86],[-3.49,0.85],[-3.35,0.86],[-3.21,0.87],[-3.07,0.85],[-2.93,0.86],[-2.79,0.87],[-2.65,0.85],[-2.51,0.86],
  [-2.37,0.87],[-2.23,0.85],[-2.09,0.86],[-1.95,0.87],[-1.81,0.85],[-1.67,0.86],[-1.53,0.87],[-1.39,0.85],[-1.25,0.86],[-1.11,0.85],
  [-3.73,0.80],[-3.59,0.81],[-3.45,0.80],[-3.31,0.81],[-3.17,0.79],[-3.03,0.81],[-2.89,0.80],[-2.75,0.81],[-2.61,0.79],
  [-2.47,0.81],[-2.33,0.80],[-2.19,0.81],[-2.05,0.79],[-1.91,0.81],[-1.77,0.80],[-1.63,0.81],[-1.49,0.79],[-1.35,0.81],[-1.21,0.80],[-1.07,0.79],
  [-3.63,0.75],[-3.49,0.74],[-3.35,0.75],[-3.21,0.76],[-3.07,0.74],[-2.93,0.75],[-2.79,0.76],[-2.65,0.74],[-2.51,0.75],
  [-2.37,0.76],[-2.23,0.74],[-2.09,0.75],[-1.95,0.76],[-1.81,0.74],[-1.67,0.75],[-1.53,0.76],[-1.39,0.74],[-1.25,0.75],[-1.11,0.74],
  [-3.69,0.69],[-3.55,0.70],[-3.41,0.69],[-3.27,0.70],[-3.13,0.68],[-2.99,0.70],[-2.85,0.69],[-2.71,0.70],[-2.57,0.68],
  [-2.43,0.70],[-2.29,0.69],[-2.15,0.70],[-2.01,0.68],[-1.87,0.70],[-1.73,0.69],[-1.59,0.70],[-1.45,0.68],[-1.31,0.70],[-1.17,0.69],
  [-3.55,0.64],[-3.41,0.63],[-3.27,0.64],[-3.13,0.65],[-2.99,0.63],[-2.85,0.64],[-2.71,0.65],[-2.57,0.63],[-2.43,0.64],
  [-2.29,0.65],[-2.15,0.63],[-2.01,0.64],[-1.87,0.65],[-1.73,0.63],[-1.59,0.64],[-1.45,0.65],[-1.31,0.63],[-1.17,0.64],
  [-3.61,0.58],[-3.47,0.59],[-3.33,0.58],[-3.19,0.59],[-3.05,0.57],[-2.91,0.59],[-2.77,0.58],[-2.63,0.59],[-2.49,0.57],
  [-2.35,0.59],[-2.21,0.58],[-2.07,0.59],[-1.93,0.57],[-1.79,0.59],[-1.65,0.58],[-1.51,0.59],[-1.37,0.57],[-1.23,0.58],
  [-3.47,0.53],[-3.33,0.52],[-3.19,0.53],[-3.05,0.54],[-2.91,0.52],[-2.77,0.53],[-2.63,0.54],[-2.49,0.52],[-2.35,0.53],
  [-2.21,0.54],[-2.07,0.52],[-1.93,0.53],[-1.79,0.54],[-1.65,0.52],[-1.51,0.53],[-1.37,0.54],[-1.24,0.52],
  [-3.53,0.47],[-3.39,0.48],[-3.25,0.47],[-3.11,0.48],[-2.97,0.46],[-2.83,0.48],[-2.69,0.47],[-2.55,0.48],[-2.41,0.46],
  [-2.27,0.48],[-2.13,0.47],[-1.99,0.48],[-1.85,0.46],[-1.71,0.48],[-1.57,0.47],[-1.43,0.48],
  [-3.39,0.42],[-3.25,0.41],[-3.11,0.42],[-2.97,0.43],[-2.83,0.41],[-2.69,0.42],[-2.55,0.43],[-2.41,0.41],[-2.27,0.42],
  [-2.13,0.43],[-1.99,0.41],[-1.85,0.42],[-1.71,0.43],[-1.57,0.41],[-1.45,0.42],
  [-3.33,0.36],[-3.19,0.37],[-3.05,0.36],[-2.91,0.37],[-2.77,0.35],[-2.63,0.37],[-2.49,0.36],[-2.35,0.37],[-2.21,0.35],
  [-2.07,0.37],[-1.93,0.36],[-1.79,0.37],[-1.65,0.35],[-1.52,0.36],
  [-3.27,0.31],[-3.13,0.30],[-2.99,0.31],[-2.85,0.32],[-2.71,0.30],[-2.57,0.31],[-2.43,0.32],[-2.29,0.30],[-2.15,0.31],
  [-2.01,0.32],[-1.87,0.30],[-1.73,0.31],[-1.60,0.30]
]
// smoother drawn through (d)
const smoothX = [-5.23, -4.5, -3.5, -2.5, -1.5, -0.5, 0.5, 1.3]
const smoothY = [0.95, 0.92, 0.87, 0.81, 0.75, 0.69, 0.66, 0.635]

// axis limits of the four panels
const limA = { x: [-3.13, 2.87], y: [-1.74, 28.4] }
const limB = { x: [-3.66, 3.66], y: [-2.9, 2.65] }
const limC = { x: [-5.68, 1.73], y: [-2.91, 2.66] }
const limD = { x: [-5.67, 1.73], y: [-0.114, 2.0] }

// reference grid lines (range split in four, as lattice does)
const gridLinesX = [-3.84, -1.97, -0.10]
const gridLinesYc = [-1.52, -0.12, 1.27]
const gridLinesYd = [0.415, 0.943, 1.47]

const FONT = 'Liberation Sans, Arial, Helvetica, sans-serif'
const BLUE = '#0080ff'
const lineStyle = { color: '#000', width: 1.5 }

const chart = echarts.init(document.getElementById('chart'))

const grids = [
  { left: 110, top: 103, width: 366, height: 271 },
  { left: 771, top: 103, width: 371, height: 271 },
  { left: 105, top: 648, width: 371, height: 271 },
  { left: 782, top: 648, width: 360, height: 271 }
]

// builds bottom/top (x) and left/right (y) axes for one lattice panel
const xAxes = []
const yAxes = []
function panelAxes(gi, lim, p) {
  const base = {
    type: 'value', gridIndex: gi, scale: true,
    axisLine: { show: true, onZero: false, lineStyle },
    splitLine: { show: false }
  }
  const labelStyle = { fontSize: 21, color: '#000', fontFamily: FONT }
  xAxes.push(Object.assign({}, base, {
    position: 'bottom', min: lim.x[0], max: lim.x[1],
    axisTick: { customValues: p.xTicks, length: 14, lineStyle },
    axisLabel: Object.assign({ customValues: p.xTicks, margin: 24 }, labelStyle),
    name: p.xName, nameLocation: 'middle', nameGap: p.xNameGap,
    nameTextStyle: { fontSize: 27, color: '#000', fontFamily: FONT }
  }))
  xAxes.push(Object.assign({}, base, {
    position: 'top', min: lim.x[0], max: lim.x[1],
    axisTick: { customValues: p.xTicks, length: 14, lineStyle },
    axisLabel: { show: false }
  }))
  yAxes.push(Object.assign({}, base, {
    position: 'left', min: lim.y[0], max: lim.y[1],
    axisTick: { customValues: p.yTicksLeft || p.yTicks, length: 14, lineStyle },
    axisLabel: Object.assign({
      customValues: p.yTicks, margin: 27,
      formatter: p.yFmt || (v => String(v))
    }, labelStyle),
    name: p.yName, nameLocation: 'middle', nameGap: p.yNameGap,
    nameTextStyle: { fontSize: 27, color: '#000', fontFamily: FONT }
  }))
  yAxes.push(Object.assign({}, base, {
    position: 'right', min: lim.y[0], max: lim.y[1],
    axisTick: { customValues: p.yTicks, length: 14, lineStyle },
    axisLabel: { show: false }
  }))
}

panelAxes(0, limA, { xTicks: [-3, -2, -1, 0, 1, 2], yTicks: [0, 5, 10, 15, 20, 25],
  xName: 'Model Residuals', xNameGap: 69, yName: '% Total', yNameGap: 72 })
panelAxes(1, limB, { xTicks: [-2, 0, 2], yTicks: [-2, -1, 0, 1, 2],
  xName: 'Theoretical Quantiles', xNameGap: 69, yName: 'Model Residuals', yNameGap: 67 })
panelAxes(2, limC, { xTicks: [-4, -2, 0], yTicks: [-2, -1, 0, 1, 2],
  xName: 'Fitted Values', xNameGap: 68, yName: 'Model Residuals', yNameGap: 67 })
panelAxes(3, limD, { xTicks: [-4, -2, 0], yTicks: [0, 0.5, 1, 1.5], yTicksLeft: [0, 0.5, 1, 1.5, 2],
  yFmt: v => v.toFixed(1), xName: 'Fitted Values', xNameGap: 68, yName: 'Std. Model Residuals', yNameGap: 78 })

const circle = size => ({
  type: 'scatter', symbol: 'circle', symbolSize: size, silent: true, z: 3,
  itemStyle: { color: 'rgba(0,0,0,0)', borderColor: BLUE, borderWidth: 1.6 }
})
// light reference lines, drawn underneath the points
function refLines(axisIdx, lim, xs, ys) {
  const seg = d => ({
    type: 'line', xAxisIndex: axisIdx, yAxisIndex: axisIdx, silent: true, z: 1,
    showSymbol: false, data: d, lineStyle: { color: '#e8e8e8', width: 1.5 }
  })
  return xs.map(v => seg([[v, lim.y[0]], [v, lim.y[1]]]))
    .concat(ys.map(v => seg([[lim.x[0], v], [lim.x[1], v]])))
}

const histData = histPercent.map((h, i) => [histEdges[i], histEdges[i + 1], h])

const titles = [['(a)', 272, 7], ['(b)', 937, 7], ['(c)', 272, 555], ['(d)', 937, 555]].map(t => ({
  text: t[0], left: t[1], top: t[2], textAlign: 'center',
  textStyle: { fontSize: 33, fontWeight: 'bold', color: '#000', fontFamily: FONT }
}))

chart.setOption({
  animation: false,
  backgroundColor: '#fff',
  textStyle: { fontFamily: FONT },
  title: titles,
  grid: grids,
  xAxis: xAxes,
  yAxis: yAxes,
  series: [
    {
      type: 'custom', xAxisIndex: 0, yAxisIndex: 0, silent: true,
      data: histData,
      encode: { x: [0, 1], y: 2 },
      renderItem: (params, api) => {
        const p0 = api.coord([api.value(0), api.value(2)])
        const p1 = api.coord([api.value(1), 0])
        return {
          type: 'rect',
          shape: { x: p0[0], y: p0[1], width: p1[0] - p0[0], height: p1[1] - p0[1] },
          style: { fill: '#bebebe', stroke: '#000', lineWidth: 1.3 }
        }
      }
    },
    Object.assign(circle(11), { xAxisIndex: 2, yAxisIndex: 2, data: qqPoints.concat(qqBand) }),
    ...refLines(4, limC, gridLinesX, gridLinesYc),
    Object.assign(circle(14), { xAxisIndex: 4, yAxisIndex: 4, data: residOuter.concat(residMid, residCore, residCoreB) }),
    {
      type: 'line', xAxisIndex: 4, yAxisIndex: 4, silent: true, z: 5, showSymbol: false,
      lineStyle: { color: '#000', width: 1.5 },
      data: [[limC.x[0], 0], [limC.x[1], 0]]
    },
    ...refLines(6, limD, gridLinesX, gridLinesYd),
    Object.assign(circle(14), { xAxisIndex: 6, yAxisIndex: 6, data: scaleOuter.concat(scaleMid, scaleCore, scaleCoreB) }),
    {
      type: 'line', xAxisIndex: 6, yAxisIndex: 6, silent: true, z: 4, showSymbol: false,
      lineStyle: { color: BLUE, width: 1.3 },
      data: smoothX.map((x, i) => [x, smoothY[i]])
    }
  ]
})
</script>
</body>
</html>
